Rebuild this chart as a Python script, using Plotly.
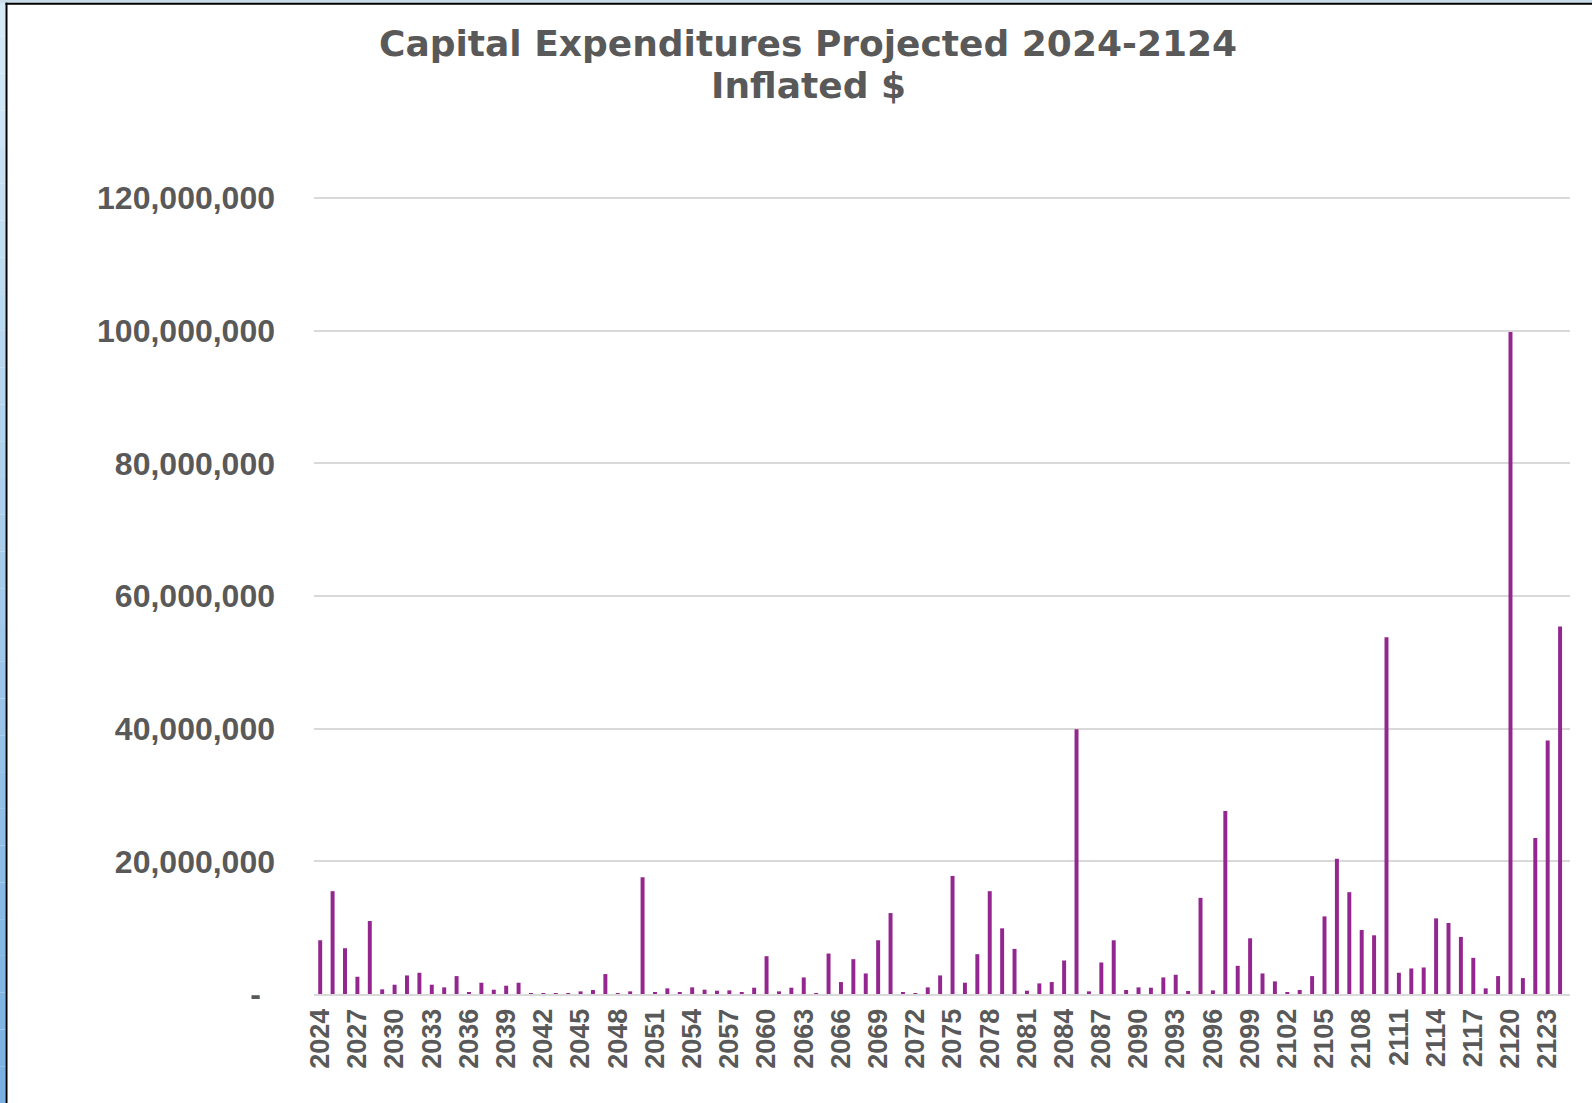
import plotly.graph_objects as go

years = [str(y) for y in range(2024, 2125)]

capex_millions = [
    8.1, 15.5, 6.9, 2.6, 11.0, 0.7, 1.4, 2.8, 3.2, 1.4,      # 2024-2033
    1.0, 2.7, 0.2, 1.7, 0.65, 1.25, 1.7, 0.1, 0.1, 0.1,      # 2034-2043
    0.1, 0.4, 0.6, 3.0, 0.1, 0.4, 17.6, 0.2, 0.85, 0.25,     # 2044-2053
    1.0, 0.65, 0.5, 0.55, 0.2, 0.95, 5.7, 0.4, 0.95, 2.5,    # 2054-2063
    0.1, 6.1, 1.8, 5.25, 3.1, 8.1, 12.2, 0.3, 0.05, 1.0,     # 2064-2073
    2.8, 17.8, 1.7, 6.0, 15.5, 9.9, 6.8, 0.5, 1.6, 1.8,      # 2074-2083
    5.05, 39.9, 0.4, 4.75, 8.1, 0.6, 1.0, 0.95, 2.5, 2.9,    # 2084-2093
    0.45, 14.5, 0.55, 27.6, 4.25, 8.4, 3.1, 1.9, 0.2, 0.6,   # 2094-2103
    2.7, 11.7, 20.4, 15.35, 9.65, 8.85, 53.8, 3.2, 3.85, 4.0,  # 2104-2113
    11.4, 10.7, 8.6, 5.45, 0.85, 2.7, 99.8, 2.4, 23.5, 38.2,   # 2114-2123
    55.4,                                                      # 2124
]
capex = [v * 1_000_000 for v in capex_millions]

title_lines = ["Capital Expenditures Projected 2024-2124", "Inflated $"]
y_tickvals = [0, 20e6, 40e6, 60e6, 80e6, 100e6, 120e6]
y_ticktext = ["-\u00a0\u2006", "20,000,000", "40,000,000", "60,000,000", "80,000,000",
              "100,000,000", "120,000,000"]
x_tickvals = years[::3]

W, H = 1592, 1103
L, R, T, B = 314, 22, 195, 109
Y_MAX = 120e6 * (H - B - T) / (H - B - 198)

fig = go.Figure()
fig.add_trace(go.Bar(
    x=years, y=capex,
    marker=dict(color="#93278F", line=dict(width=0)),
    hoverinfo="x+y",
))

def px_x(p):
    return (p - L) / (W - L - R)

def px_y(p):
    return (H - B - p) / (H - T - B)

shapes = []
# left blue strip with gradient
n = 30
for i in range(n):
    f = i / (n - 1)
    r = int(214 + (122 - 214) * f)
    g = int(234 + (176 - 234) * f)
    b = int(246 + (226 - 246) * f)
    shapes.append(dict(type="rect", xref="paper", yref="paper",
                       x0=px_x(0), x1=px_x(5.5),
                       y0=px_y(H * (i + 1) / n), y1=px_y(H * i / n),
                       fillcolor=f"rgb({r},{g},{b})", line=dict(width=0), layer="above"))
# top light strip
shapes.append(dict(type="rect", xref="paper", yref="paper",
                   x0=px_x(0), x1=px_x(W), y0=px_y(2.7), y1=px_y(0),
                   fillcolor="#C9DDE9", line=dict(width=0), layer="above"))
# black frame lines
shapes.append(dict(type="rect", xref="paper", yref="paper",
                   x0=px_x(5.5), x1=px_x(7.5), y0=px_y(H), y1=px_y(2.7),
                   fillcolor="#000000", line=dict(width=0), layer="above"))
shapes.append(dict(type="rect", xref="paper", yref="paper",
                   x0=px_x(5.5), x1=px_x(W), y0=px_y(4.8), y1=px_y(2.7),
                   fillcolor="#000000", line=dict(width=0), layer="above"))

title_font = dict(family="DejaVu Sans", size=36, color="#595959", weight="bold")
annotations = [
    dict(text=title_lines[0], xref="paper", yref="paper",
         x=px_x(808), y=px_y(44), xanchor="center", yanchor="middle",
         showarrow=False, font=title_font),
    dict(text=title_lines[1], xref="paper", yref="paper",
         x=px_x(808), y=px_y(86), xanchor="center", yanchor="middle",
         showarrow=False, font=title_font),
]

fig.update_layout(
    width=W, height=H,
    margin=dict(l=L, r=R, t=T, b=B, pad=0),
    paper_bgcolor="white", plot_bgcolor="white",
    bargap=0.68,
    showlegend=False,
    xaxis=dict(
        type="category",
        tickmode="array", tickvals=x_tickvals, ticktext=x_tickvals,
        tickangle=-90,
        tickfont=dict(family="Liberation Sans", size=27, color="#595959", weight="bold"),
        showgrid=False, showline=True, linecolor="#D9D9D9", linewidth=2,
        ticks="", ticklabelstandoff=2,
        range=[-0.5, 100.8],
    ),
    yaxis=dict(
        range=[0, Y_MAX],
        tickmode="array", tickvals=y_tickvals, ticktext=y_ticktext,
        tickfont=dict(family="Liberation Sans", size=32, color="#595959", weight="bold"),
        showgrid=True, gridcolor="#D9D9D9", gridwidth=1.5,
        zeroline=False, showline=False, ticks="",
        ticklabelstandoff=38,
    ),
    shapes=shapes,
    annotations=annotations,
)

fig.write_html("out.html", config={"displayModeBar": False},
               post_script="document.body.style.margin='0';document.body.style.overflow='hidden';")
